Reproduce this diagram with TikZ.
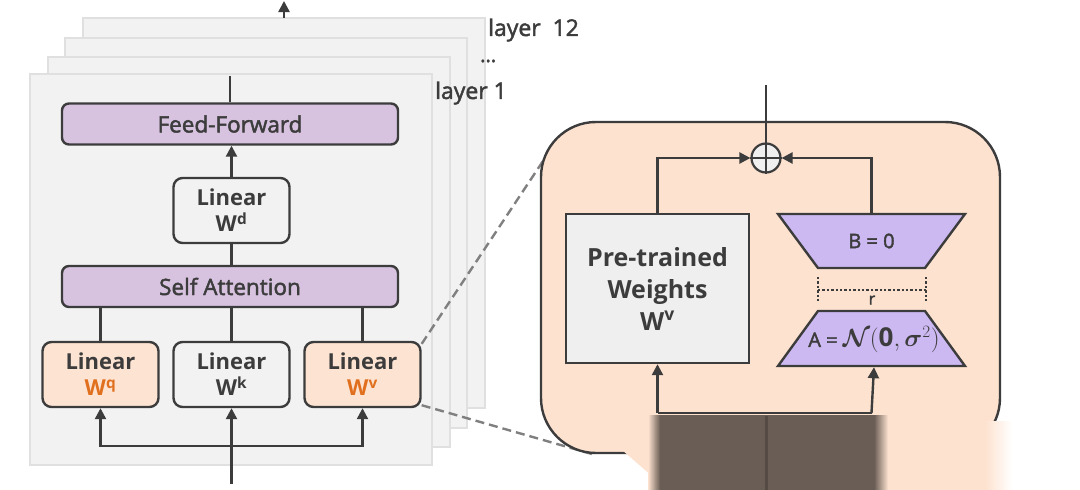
\documentclass[tikz,border=0pt]{standalone}
\usepackage{fontspec}
\setmainfont{Open Sans}
\newfontfamily\medfont[FakeBold=2]{Open Sans}
\usepackage{bm}
\usetikzlibrary{arrows.meta}
\definecolor{lay}{HTML}{F2F2F2}
\definecolor{layb}{HTML}{E0E0E0}
\definecolor{ink}{HTML}{3C3C3C}
\definecolor{purp}{HTML}{D7C2E0}
\definecolor{peach}{HTML}{FDE2CF}
\definecolor{peachb}{HTML}{FDE3D2}
\definecolor{org}{HTML}{E0701E}
\definecolor{lav}{HTML}{CDB9F2}
\definecolor{grayb}{HTML}{EFEFEF}
\definecolor{darkov}{HTML}{6A5D55}
\definecolor{dashc}{HTML}{808080}
\begin{document}
\begin{tikzpicture}[x=1pt,y=-1pt,
  line/.style={draw=ink,line width=2.4pt},
  arr/.style={line,-{Triangle[length=11pt,width=11pt]}},
  layerbox/.style={fill=lay,draw=layb,line width=1.2pt},
  bar/.style={draw=ink,line width=2.4pt,fill=purp,rounded corners=7pt,minimum width=336pt,minimum height=41pt,inner sep=0pt,font=\medfont\fontsize{22.5}{26}\selectfont,text=ink},
  lin/.style={draw=ink,line width=2.4pt,rounded corners=9pt,minimum width=116pt,minimum height=65pt,inner sep=0pt,align=center,font=\bfseries\fontsize{22}{26}\selectfont,text=ink},
  lbl/.style={font=\medfont\fontsize{23}{26}\selectfont,text=ink,inner sep=0pt},
  zoomline/.style={draw=dashc,line width=2.4pt,dash pattern=on 9pt off 5pt},
  trap/.style={draw=ink,line width=2.4pt,fill=lav,line join=miter},
]
\useasboundingbox (0,0) rectangle (1080,490);
\fill[white] (0,0) rectangle (1080,490);
% stacked layers
\draw[layerbox] (83,18) rectangle (485,408);
\draw[layerbox] (65,38) rectangle (467,428);
\draw[layerbox] (48,57) rectangle (450,447);
\draw[layerbox] (30,74) rectangle (432,465);
\coordinate (t4) at (284,18);
\coordinate (t4e) at (284,1);
\draw[arr] (t4) -- (t4e);
\node[lbl,anchor=west] (L12) at (488,30) {layer\ \ 12};
\node[lbl,anchor=west] (dots) at (480,61) {\fontsize{20}{20}\selectfont ...};
\node[lbl,anchor=west] (L1) at (435,93) {layer\ 1};
% front layer content
\node[bar] (FF) at (230,124) {Feed-Forward};
\node[lin,fill=lay] (Wd) at (231.5,210.5) {Linear\\W\textsuperscript{d}};
\node[bar] (SA) at (230,286.5) {Self Attention};
\node[lin,fill=peachb] (Wq) at (100.5,374.5) {Linear\\\textcolor{org}{W\textsuperscript{q}}};
\node[lin,fill=lay] (Wk) at (231.5,374.5) {Linear\\W\textsuperscript{k}};
\node[lin,fill=peachb] (Wv) at (362.5,374.5) {Linear\\\textcolor{org}{W\textsuperscript{v}}};
\coordinate (topL) at (230,76);
\draw[line] (FF.north) -- (topL);
\draw[arr] (Wd.north) -- (Wd.north |- FF.south);
\draw[line] (Wd.south) -- (Wd.south |- SA.north);
\draw[line] (Wq.north) -- (Wq.north |- SA.south);
\draw[line] (Wk.north) -- (Wk.north |- SA.south);
\draw[line] (Wv.north) -- (Wv.north |- SA.south);
\coordinate (inL) at (231.5,484);
\coordinate (br) at (231.5,446);
\draw[arr] (inL) -- (Wk.south);
\draw[arr] (br) -| (Wq.south);
\draw[arr] (br) -| (Wv.south);
% zoom lines
\coordinate (d1) at (545,158);
\coordinate (d2) at (592,454);
\draw[zoomline] ([yshift=-3pt]Wv.north east) -- (d1);
\draw[zoomline] ([yshift=3pt]Wv.south east) -- (d2);
% LoRA panel
\node[draw=ink,line width=2.4pt,fill=peach,rounded corners=55pt,minimum width=459pt,minimum height=331pt] (P) at (770.5,287.5) {};
\node[draw=ink,line width=2.4pt,fill=grayb,minimum width=183pt,minimum height=149pt,inner sep=0pt,align=center,font=\bfseries\fontsize{25}{32}\selectfont,text=ink] (PT) at (657.5,288.5) {Pre-trained\\Weights\\W\textsuperscript{v}};
\draw[trap] (778,214) -- (965,214) -- (925,268) -- (818,268) -- cycle;
\node[minimum width=187pt,minimum height=54pt,inner sep=0pt,font=\medfont\fontsize{20}{22}\selectfont,text=ink] (B) at (871.5,241) {B = 0};
\draw[trap] (818,311) -- (925,311) -- (965,366) -- (778,366) -- cycle;
\node[minimum width=187pt,minimum height=54pt,inner sep=0pt,font=\medfont\fontsize{20}{22}\selectfont,text=ink] (A) at (874,340) {A = {\fontsize{26}{26}\selectfont$\bm{\mathcal{N}}(\mathbf{0},\bm{\sigma}^{2})$}};
\draw[ink,line width=2.4pt,dotted] (818,277) -- (818,303) (926,277) -- (926,303) (818,290) -- (926,290);
\node[font=\medfont\fontsize{16}{16}\selectfont,text=ink,inner sep=0pt] (r) at (872,300) {r};
\node[circle,draw=ink,line width=2.2pt,fill=grayb,minimum size=29pt,inner sep=0pt] (S) at (766,158) {};
\draw[ink,line width=1.6pt] (S.north) -- (S.south) (S.west) -- (S.east);
\coordinate (outR) at (766,85);
\draw[line] (S.north) -- (outR);
\draw[arr] (PT.north) |- (S.west);
\draw[arr] (B.north) |- (S.east);
\coordinate (iP) at (657.5,413);
\coordinate (iA) at (871.5,413);
\draw[line] (iP) -- (iA);
\draw[arr] (iP) -- (PT.south);
\draw[arr] (iA) -- (A.south);
% occluding overlay at the bottom
\fill[peach] (614,443) -- (640,421) -- (985,421) -- (985,490) -- (668,490) -- cycle;
\fill[peach] (870,421) rectangle (986,490);
\shade[left color=peach,right color=white] (985,421) rectangle (1012,490);
\fill[darkov] (657,415) rectangle (877,490);
\shade[left color=peach,right color=darkov] (648,415) rectangle (660,490);
\shade[left color=darkov,right color=peach] (874,415) rectangle (888,490);
\draw[line width=3pt,darkov!80!black] (766,416) -- (766,490);
\end{tikzpicture}
\end{document}
